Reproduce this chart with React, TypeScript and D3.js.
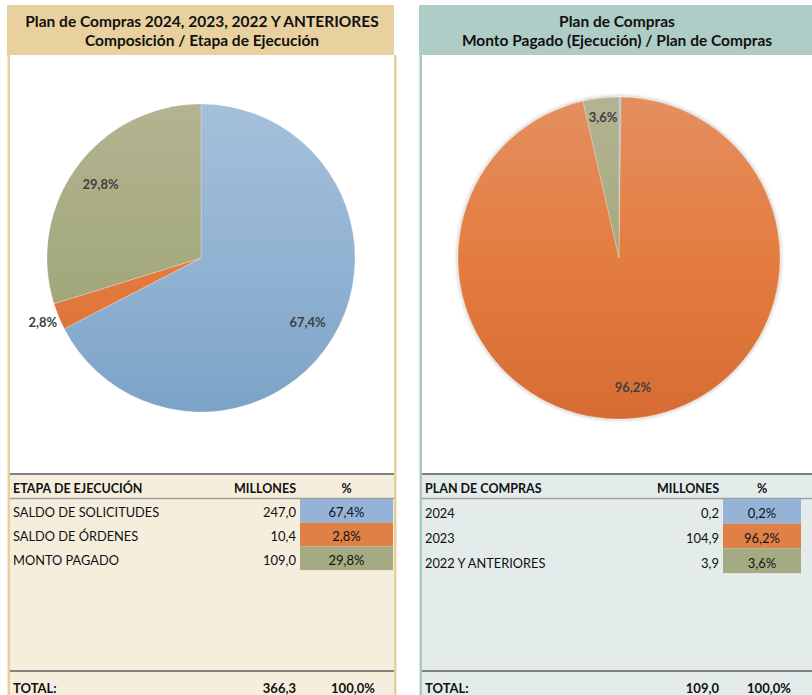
import React from "react";
import * as d3 from "d3";

// ---------- DATA ----------
const leftTitle = ["Plan de Compras 2024, 2023, 2022 Y ANTERIORES", "Composición / Etapa de Ejecución"];
const leftHeaders = ["ETAPA DE EJECUCIÓN", "MILLONES", "%"];
const leftCategories = ["SALDO DE SOLICITUDES", "SALDO DE ÓRDENES", "MONTO PAGADO"];
const leftValues = [247.0, 10.4, 109.0];
const leftPct = [67.4, 2.8, 29.8];
const leftTotal = 366.3;

const rightTitle = ["Plan de Compras", "Monto Pagado (Ejecución) / Plan de Compras"];
const rightHeaders = ["PLAN DE COMPRAS", "MILLONES", "%"];
const rightCategories = ["2024", "2023", "2022 Y ANTERIORES"];
const rightValues = [0.2, 104.9, 3.9];
const rightPct = [0.2, 96.2, 3.6];
const rightTotal = 109.0;

const totalLabel = "TOTAL:";
const totalPct = 100.0;

// ---------- STYLE ----------
const FONT = "Lato, 'Open Sans', sans-serif";
const sliceGrads = [
  ["#A4C0DA", "#93B3D3", "#7BA3C7"],
  ["#E48F60", "#E47C40", "#D66C33"],
  ["#B3B391", "#A5AA7F", "#959F6C"],
];
const cellColors = ["#95B3D7", "#DF8047", "#A4AB82"];

const fmt = (v: number) => v.toFixed(1).replace(".", ",");

type PanelProps = {
  id: string;
  x0: number;
  x1: number;
  title: string[];
  headerFill: string;
  borderColor: string;
  tableFill: string;
  headers: string[];
  cats: string[];
  vals: number[];
  pcts: number[];
  total: number;
  cx: number;
  cy: number;
  r: number;
  numRight: number;
  pctX0: number;
  pctX1: number;
  totalPctX: number;
  rowH: number;
  shadow: boolean;
  leftBorder: boolean;
  rightBorder: boolean;
};

function Panel(p: PanelProps) {
  const pie = d3.pie<number>().sort(null).value((d) => d).startAngle(0).endAngle(2 * Math.PI);
  const arcs = pie(p.pcts);
  const arc = d3.arc<d3.PieArcDatum<number>>().innerRadius(0).outerRadius(p.r);
  const tableTop = 474;
  const headerLine = 498.5;
  const totalLine = 671;
  const textX = p.x0 + 3;
  const pctC = (p.pctX0 + p.pctX1) / 2;
  const rowY = d3.range(p.cats.length).map((i) => headerLine + 0.5 + i * p.rowH);

  const labelPos = (a: d3.PieArcDatum<number>) => {
    const v = a.data;
    let f = 0.81;
    if (v < 3) f = 1.11;
    else if (v < 5) f = 0.88;
    const la = d3.arc<d3.PieArcDatum<number>>().innerRadius(p.r * f).outerRadius(p.r * f);
    return la.centroid(a);
  };

  return (
    <g>
      <defs>
        {sliceGrads.map((g, i) => (
          <linearGradient
            key={i}
            id={`${p.id}-g${i}`}
            gradientUnits="userSpaceOnUse"
            x1={0}
            x2={0}
            y1={-p.r}
            y2={p.r}
          >
            <stop offset="0%" stopColor={g[0]} />
            <stop offset="50%" stopColor={g[1]} />
            <stop offset="100%" stopColor={g[2]} />
          </linearGradient>
        ))}
        <filter id={`${p.id}-sh`} x="-10%" y="-10%" width="120%" height="120%">
          <feDropShadow dx="0" dy="0" stdDeviation="2" floodColor="#000" floodOpacity="0.35" />
        </filter>
      </defs>
      {/* header */}
      <rect x={p.x0 - 3} y={5} width={p.x1 - p.x0 + 3} height={50} fill={p.headerFill} />
      {p.title.map((t, i) => (
        <text
          key={i}
          x={(p.x0 + p.x1) / 2}
          y={27 + i * 18.5}
          textAnchor="middle"
          fontFamily={FONT}
          fontWeight="bold"
          fontSize={15.5}
          fill="#111"
        >
          {t}
        </text>
      ))}
      {/* chart area */}
      <rect x={p.x0} y={55} width={p.x1 - p.x0} height={tableTop - 55} fill="#fff" />
      {/* table area */}
      <rect x={p.x0} y={tableTop} width={p.x1 - p.x0} height={695 - tableTop} fill={p.tableFill} />
      {p.leftBorder && <rect x={p.x0 - 2.5} y={55} width={2.5} height={640} fill={p.borderColor} />}
      {p.rightBorder && <rect x={p.x1} y={55} width={2.5} height={640} fill={p.borderColor} />}

      {/* pie */}
      <g transform={`translate(${p.cx},${p.cy})`}>
        <g filter={p.shadow ? `url(#${p.id}-sh)` : undefined}>
          {arcs.map((a, i) => (
            <path
              key={i}
              d={arc(a) || ""}
              fill={`url(#${p.id}-g${i})`}
              stroke="#ffffff"
              strokeOpacity={0.4}
              strokeWidth={0.6}
            />
          ))}
        </g>
        {arcs.map((a, i) => {
          if (a.data < 1) return null;
          const [lx, ly] = labelPos(a);
          return (
            <text
              key={`l${i}`}
              x={lx}
              y={ly}
              dy="0.35em"
              textAnchor="middle"
              fontFamily={FONT}
              fontWeight="bold"
              fontSize={13}
              fill="#404040"
            >
              {fmt(a.data)}%
            </text>
          );
        })}
      </g>

      {/* table */}
      <line x1={p.x0} x2={p.x1} y1={tableTop} y2={tableTop} stroke="#808080" strokeWidth={2} />
      <text x={textX} y={493} fontFamily={FONT} fontWeight="bold" fontSize={12.5} fill="#111">
        {p.headers[0]}
      </text>
      <text x={p.numRight} y={493} textAnchor="end" fontFamily={FONT} fontWeight="bold" fontSize={12.5} fill="#111">
        {p.headers[1]}
      </text>
      <text x={pctC} y={493} textAnchor="middle" fontFamily={FONT} fontWeight="bold" fontSize={12.5} fill="#111">
        {p.headers[2]}
      </text>
      <line x1={p.x0} x2={p.x1} y1={headerLine} y2={headerLine} stroke="#A0A0A0" strokeWidth={1.5} />
      {p.cats.map((c, i) => (
        <g key={c}>
          <rect x={p.pctX0} y={rowY[i]} width={p.pctX1 - p.pctX0} height={p.rowH} fill={cellColors[i]} />
          <text x={textX} y={rowY[i] + p.rowH - 5.5} fontFamily={FONT} fontSize={12.8} fill="#111">
            {c}
          </text>
          <text x={p.numRight} y={rowY[i] + p.rowH - 5.5} textAnchor="end" fontFamily={FONT} fontSize={13} fill="#111">
            {fmt(p.vals[i])}
          </text>
          <text x={pctC} y={rowY[i] + p.rowH - 5.5} textAnchor="middle" fontFamily={FONT} fontSize={13} fill="#111">
            {fmt(p.pcts[i])}%
          </text>
        </g>
      ))}
      <line x1={p.x0} x2={p.x1} y1={totalLine} y2={totalLine} stroke="#808080" strokeWidth={2} />
      <text x={textX} y={692.5} fontFamily={FONT} fontWeight="bold" fontSize={13} fill="#111">
        {totalLabel}
      </text>
      <text x={p.numRight} y={692.5} textAnchor="end" fontFamily={FONT} fontWeight="bold" fontSize={13} fill="#111">
        {fmt(p.total)}
      </text>
      <text x={p.totalPctX} y={692.5} textAnchor="middle" fontFamily={FONT} fontWeight="bold" fontSize={13} fill="#111">
        {fmt(totalPct)}%
      </text>
    </g>
  );
}

export default function App() {
  return (
    <div style={{ position: "absolute", left: 0, top: 0, width: 812, height: 695, background: "#fff" }}>
      <svg width={812} height={695} style={{ display: "block" }}>
        <rect x={0} y={0} width={812} height={695} fill="#fff" />
        <Panel
          id="L"
          x0={10}
          x1={394}
          title={leftTitle}
          headerFill="#E9D19F"
          borderColor="#E8CF9A"
          tableFill="#F6EEDD"
          headers={leftHeaders}
          cats={leftCategories}
          vals={leftValues}
          pcts={leftPct}
          total={leftTotal}
          cx={201}
          cy={258}
          r={154}
          numRight={296}
          pctX0={300}
          pctX1={393}
          totalPctX={353}
          rowH={23.7}
          shadow={false}
          leftBorder={true}
          rightBorder={true}
        />
        <Panel
          id="R"
          x0={422}
          x1={812}
          title={rightTitle}
          headerFill="#B0CCC6"
          borderColor="#A9C8C1"
          tableFill="#E3ECEA"
          headers={rightHeaders}
          cats={rightCategories}
          vals={rightValues}
          pcts={rightPct}
          total={rightTotal}
          cx={619}
          cy={258}
          r={161}
          numRight={719}
          pctX0={723}
          pctX1={801}
          totalPctX={769}
          rowH={24.7}
          shadow={true}
          leftBorder={true}
          rightBorder={false}
        />
      </svg>
    </div>
  );
}
